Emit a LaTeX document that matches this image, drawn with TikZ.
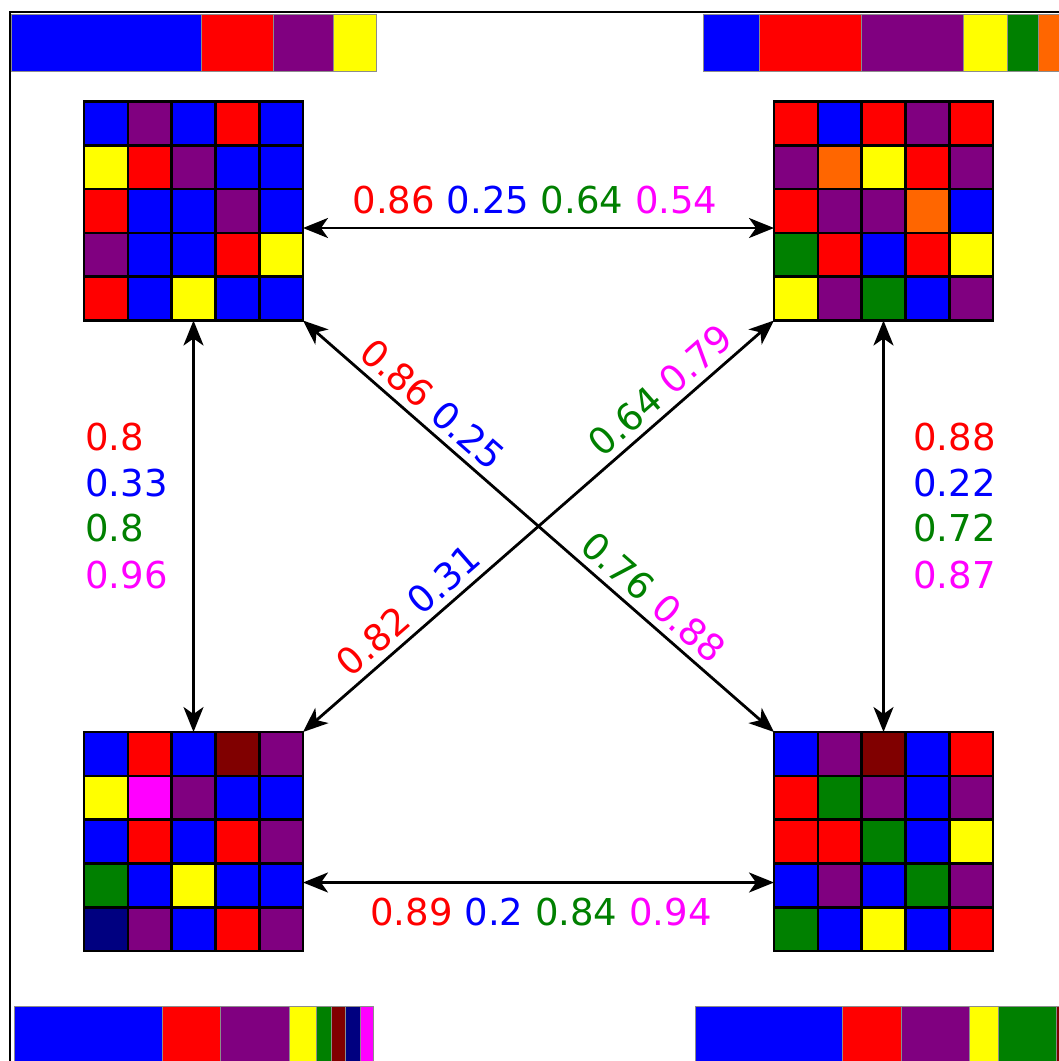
\documentclass[tikz,border=0pt]{standalone}
\usepackage{fontspec}
\setmainfont{DejaVu Sans}
\usetikzlibrary{arrows.meta,calc}
\definecolor{cB}{RGB}{0,0,255}
\definecolor{cR}{RGB}{255,0,0}
\definecolor{cP}{RGB}{128,0,128}
\definecolor{cY}{RGB}{255,255,0}
\definecolor{cG}{RGB}{0,128,0}
\definecolor{cO}{RGB}{255,102,0}
\definecolor{cM}{RGB}{255,0,255}
\definecolor{cK}{RGB}{128,0,0}
\definecolor{cN}{RGB}{0,0,128}
\newcommand\drawgridcells[2]{%
  \foreach \c [count=\i from 0] in {#2} {
    \pgfmathtruncatemacro\col{mod(\i,5)}
    \pgfmathtruncatemacro\row{floor(\i/5)}
    \filldraw[cell, fill=\c] ($(#1.north west)+(\col*43.8,\row*43.8)$) rectangle ++(43.8,43.8);
  }}
\begin{document}
\begin{tikzpicture}[x=1pt,y=-1pt,
  cell/.style={draw=black, line width=2.6pt},
  gridbox/.style={draw=black, line width=2.6pt, minimum width=219pt, minimum height=219pt, inner sep=0pt, outer sep=0pt},
  barseg/.style={draw=black!45, line width=0.6pt},
  conn/.style={{Stealth[length=25pt,width=20pt,inset=7pt]}-{Stealth[length=25pt,width=20pt,inset=7pt]}, line width=2.8pt},
  lab/.style={font=\fontsize{37}{46}\selectfont, inner sep=0pt},
  dlab/.style={font=\fontsize{37}{46}\selectfont, inner sep=7pt, sloped, above}]
\useasboundingbox (0,0) rectangle (1059,1061);
\clip (0,0) rectangle (1059,1061);
\fill[white] (0,0) rectangle (1059,1061);
% frame
\draw[line width=2pt] (10,1070) -- (10,12) -- (1070,12);
% bars
\foreach \a/\b/\c in {11/201/cB,201/273/cR,273/333/cP,333/376/cY}
  \filldraw[barseg, fill=\c] (\a,14) rectangle (\b,71);
\foreach \a/\b/\c in {703/759/cB,759/861/cR,861/963/cP,963/1007/cY,1007/1038/cG,1038/1067/cO}
  \filldraw[barseg, fill=\c] (\a,14) rectangle (\b,71);
\foreach \a/\b/\c in {14/162/cB,162/220/cR,220/289/cP,289/316/cY,316/331/cG,331/345/cK,345/360/cN,360/373/cM}
  \filldraw[barseg, fill=\c] (\a,1006) rectangle (\b,1070);
\foreach \a/\b/\c in {695/842/cB,842/901/cR,901/969/cP,969/998/cY,998/1056/cG,1056/1070/cK}
  \filldraw[barseg, fill=\c] (\a,1006) rectangle (\b,1070);
% grids
\node[gridbox] (tl) at (193.5,211) {};
\node[gridbox] (tr) at (883.5,211) {};
\node[gridbox] (bl) at (193.5,841.5) {};
\node[gridbox] (br) at (883.5,841.5) {};
\drawgridcells{tl}{cB,cP,cB,cR,cB, cY,cR,cP,cB,cB, cR,cB,cB,cP,cB, cP,cB,cB,cR,cY, cR,cB,cY,cB,cB}
\drawgridcells{tr}{cR,cB,cR,cP,cR, cP,cO,cY,cR,cP, cR,cP,cP,cO,cB, cG,cR,cB,cR,cY, cY,cP,cG,cB,cP}
\drawgridcells{bl}{cB,cR,cB,cK,cP, cY,cM,cP,cB,cB, cB,cR,cB,cR,cP, cG,cB,cY,cB,cB, cN,cP,cB,cR,cP}
\drawgridcells{br}{cB,cP,cK,cB,cR, cR,cG,cP,cB,cP, cR,cR,cG,cB,cY, cB,cP,cB,cG,cP, cG,cB,cY,cB,cR}
% connectors
\draw[conn] ([yshift=-17pt]tl.east) -- ([yshift=-17pt]tr.west);
\draw[conn] ([yshift=-41pt]bl.east) -- ([yshift=-41pt]br.west);
\draw[conn] (tl.south) -- (bl.north);
\draw[conn] (tr.south) -- (br.north);
\draw[conn] (tl.south east) --
  node[dlab, pos=0.244] (d1a) {\color{cR}0.86 \color{cB}0.25}
  node[dlab, pos=0.713] (d1b) {\color{cG}0.76 \color{cM}0.88} (br.north west);
\draw[conn] (bl.north east) --
  node[dlab, pos=0.255] (d2a) {\color{cR}0.82 \color{cB}0.31}
  node[dlab, pos=0.79] (d2b) {\color{cG}0.64 \color{cM}0.79} (tr.south west);
% labels
\node[lab, anchor=base] (ltop) at (535,213) {\color{cR}0.86 \color{cB}0.25 \color{cG}0.64 \color{cM}0.54};
\node[lab, anchor=base] (lbot) at (541,925) {\color{cR}0.89 \color{cB}0.2 \color{cG}0.84 \color{cM}0.94};
\node[lab, anchor=base west, text=cR] (l1) at (85,450.5) {0.8};
\node[lab, anchor=base west, text=cB] (l2) at (85,496.5) {0.33};
\node[lab, anchor=base west, text=cG] (l3) at (85,541.5) {0.8};
\node[lab, anchor=base west, text=cM] (l4) at (85,588.5) {0.96};
\node[lab, anchor=base west, text=cR] (r1) at (913,450.5) {0.88};
\node[lab, anchor=base west, text=cB] (r2) at (913,496.5) {0.22};
\node[lab, anchor=base west, text=cG] (r3) at (913,541.5) {0.72};
\node[lab, anchor=base west, text=cM] (r4) at (913,588.5) {0.87};
\end{tikzpicture}
\end{document}
